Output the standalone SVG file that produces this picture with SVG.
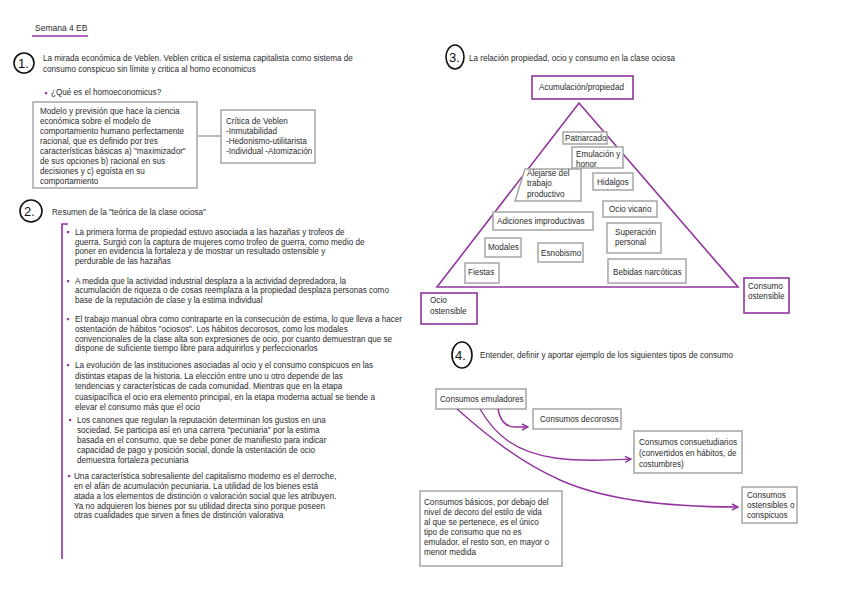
<svg xmlns="http://www.w3.org/2000/svg" width="848" height="599" viewBox="0 0 848 599">
<style>
.t{font-family:"Liberation Sans",Arial,sans-serif;font-size:8.15px;fill:#2b2b2b}
.n{font-family:"Liberation Sans",Arial,sans-serif;font-size:13px;fill:#111}
.c{fill:none;stroke:#111;stroke-width:1.6}
.gb{fill:#fff;stroke:#a5a5a5;stroke-width:1.5}
.pb{fill:#fff;stroke:#93339f;stroke-width:1.6}
.pl{fill:none;stroke:#93339f;stroke-width:1.6}
.bl{fill:#93339f}
.ar{fill:none;stroke:#93339f;stroke-width:1.4}
</style>
<defs>
<marker id="ah" viewBox="0 0 8 8" refX="7" refY="4" markerWidth="8" markerHeight="8" markerUnits="userSpaceOnUse" orient="auto">
<path d="M1,1 L7,4 L1,7" fill="none" stroke="#93339f" stroke-width="1.4"/>
</marker>
</defs>
<rect width="848" height="599" fill="#fff"/>

<g id="title">
<text class="t" x="35" y="31" style="font-size:8.5px">Semana 4 EB</text>
<line class="pl" x1="32" y1="36" x2="88" y2="36"/>
</g>

<g id="section1">
<circle class="c" cx="24" cy="63" r="10"/>
<text class="n" x="18" y="68">1.</text>
<text class="t" x="43" y="61">La mirada económica de Veblen. Veblen critica el sistema capitalista como sistema de</text>
<text class="t" x="43" y="72">consumo conspicuo sin límite y critica al homo economicus</text>
<rect class="bl" x="45" y="92" width="2.2" height="2.2"/>
<text class="t" x="51" y="95">¿Qué es el homoeconomicus?</text>
</g>

<g id="homo-box">
<rect class="gb" x="33" y="102" width="164" height="86"/>
<text class="t" x="40" y="114">Modelo y previsión que hace la ciencia</text>
<text class="t" x="40" y="124">económica sobre el modelo de</text>
<text class="t" x="40" y="134">comportamiento humano perfectamente</text>
<text class="t" x="40" y="144">racional, que es definido por tres</text>
<text class="t" x="40" y="154">características básicas a) "maximizador"</text>
<text class="t" x="40" y="164">de sus opciones b) racional en sus</text>
<text class="t" x="40" y="174">decisiones y c) egoísta en su</text>
<text class="t" x="40" y="184">comportamiento</text>
</g>

<g id="critica-box">
<rect class="gb" x="221" y="110" width="94" height="53"/>
<text class="t" x="226" y="124">Crítica de Veblen</text>
<text class="t" x="226" y="134">-Inmutabilidad</text>
<text class="t" x="226" y="144">-Hedonismo-utilitarista</text>
<text class="t" x="226" y="154">-Individual -Atomización</text>
</g>

<g id="section2">
<circle class="c" cx="31" cy="211" r="11"/>
<text class="n" x="24" y="216">2.</text>
<text class="t" x="52" y="215">Resumen de la "teórica de la clase ociosa"</text>
<path class="pl" d="M68,224 L62,224 L62,559"/>
<rect class="bl" x="67" y="231" width="2.2" height="2.2"/>
<text class="t" x="75" y="235">La primera forma de propiedad estuvo asociada a las hazañas y trofeos de</text>
<text class="t" x="75" y="245">guerra. Surgió con la captura de mujeres como trofeo de guerra, como medio de</text>
<text class="t" x="75" y="254">poner en evidencia la fortaleza y de mostrar un resultado ostensible y</text>
<text class="t" x="75" y="264">perdurable de las hazañas</text>
<rect class="bl" x="67" y="280" width="2.2" height="2.2"/>
<text class="t" x="75" y="284">A medida que la actividad industrial desplaza a la actividad depredadora, la</text>
<text class="t" x="75" y="293">acumulación de riqueza o de cosas reemplaza a la propiedad desplaza personas como</text>
<text class="t" x="75" y="303">base de la reputación de clase y la estima individual</text>
<rect class="bl" x="67" y="318" width="2.2" height="2.2"/>
<text class="t" x="75" y="322">El trabajo manual obra como contraparte en la consecución de estima, lo que lleva a hacer</text>
<text class="t" x="75" y="332">ostentación de hábitos "ociosos". Los hábitos decorosos, como los modales</text>
<text class="t" x="75" y="342">convencionales de la clase alta son expresiones de ocio, por cuanto demuestran que se</text>
<text class="t" x="75" y="351">dispone de suficiente tiempo libre para adquirirlos y perfeccionarlos</text>
<rect class="bl" x="67" y="364" width="2.2" height="2.2"/>
<text class="t" x="75" y="368">La evolución de las instituciones asociadas al ocio y el consumo conspicuos en las</text>
<text class="t" x="75" y="379">distintas etapas de la historia. La elección entre uno u otro depende de las</text>
<text class="t" x="75" y="389">tendencias y características de cada comunidad. Mientras que en la etapa</text>
<text class="t" x="75" y="400">cuasipacífica el ocio era elemento principal, en la etapa moderna actual se tiende a</text>
<text class="t" x="75" y="410">elevar el consumo más que el ocio</text>
<rect class="bl" x="69" y="419" width="2.2" height="2.2"/>
<text class="t" x="77" y="423">Los canones que regulan la reputación determinan los gustos en una</text>
<text class="t" x="77" y="433">sociedad. Se participa así en una carrera "pecuniaria" por la estima</text>
<text class="t" x="77" y="443">basada en el consumo, que se debe poner de manifiesto para indicar</text>
<text class="t" x="77" y="453">capacidad de pago y posición social, donde la ostentación de ocio</text>
<text class="t" x="77" y="463">demuestra fortaleza pecuniaria</text>
<rect class="bl" x="68" y="475" width="2.2" height="2.2"/>
<text class="t" x="74" y="479">Una característica sobresaliente del capitalismo moderno es el derroche,</text>
<text class="t" x="74" y="489">en el afán de acumulación pecuniaria. La utilidad de los bienes está</text>
<text class="t" x="74" y="499">atada a los elementos de distinción o valoración social que les atribuyen.</text>
<text class="t" x="74" y="509">Ya no adquieren los bienes por su utilidad directa sino porque poseen</text>
<text class="t" x="74" y="518">otras cualidades que sirven a fines de distinción valorativa</text>
</g>

<g id="section3">
<ellipse class="c" cx="455" cy="57" rx="9" ry="12"/>
<text class="n" x="449" y="62">3.</text>
<text class="t" x="469" y="61">La relación propiedad, ocio y consumo en la clase ociosa</text>
</g>

<g id="pyramid">
<polygon class="pl" points="579,103 738,287 437,287"/>
</g>

<g id="acumulacion">
<rect class="pb" x="532" y="76" width="101" height="23"/>
<text class="t" x="539" y="90">Acumulación/propiedad</text>
</g>
<g id="patriarcado">
<rect class="gb" x="563" y="132" width="44" height="12"/>
<text class="t" x="565" y="141">Patriarcado</text>
</g>
<g id="emulacion">
<rect class="gb" x="572" y="147" width="51" height="21"/>
<text class="t" x="576" y="157">Emulación y</text>
<text class="t" x="576" y="167">honor</text>
</g>
<g id="alejarse">
<polygon class="gb" points="525,169 581,169 581,201 515,201"/>
<text class="t" x="527" y="176">Alejarse del</text>
<text class="t" x="527" y="186">trabajo</text>
<text class="t" x="527" y="197">productivo</text>
</g>
<g id="hidalgos">
<rect class="gb" x="593" y="173" width="40" height="17"/>
<text class="t" x="597" y="185">Hidalgos</text>
</g>
<g id="ocio-vicario">
<rect class="gb" x="603" y="201" width="54" height="16"/>
<text class="t" x="609" y="212">Ocio vicario</text>
</g>
<g id="adiciones">
<rect class="gb" x="493" y="212" width="100" height="18"/>
<text class="t" x="497" y="224">Adiciones improductivas</text>
</g>
<g id="superacion">
<rect class="gb" x="607" y="223" width="54" height="30"/>
<text class="t" x="615" y="235">Superación</text>
<text class="t" x="615" y="245">personal</text>
</g>
<g id="modales">
<rect class="gb" x="485" y="238" width="36" height="19"/>
<text class="t" x="488" y="250">Modales</text>
</g>
<g id="esnobismo">
<rect class="gb" x="538" y="243" width="45" height="19"/>
<text class="t" x="541" y="256">Esnobismo</text>
</g>
<g id="fiestas">
<rect class="gb" x="465" y="263" width="34" height="20"/>
<text class="t" x="468" y="275">Fiestas</text>
</g>
<g id="bebidas">
<rect class="gb" x="608" y="259" width="78" height="24"/>
<text class="t" x="613" y="275">Bebidas narcóticas</text>
</g>
<g id="ocio-ostensible">
<rect class="pb" x="421" y="293" width="56" height="31"/>
<text class="t" x="430" y="303">Ocio</text>
<text class="t" x="430" y="314">ostensible</text>
</g>
<g id="consumo-ostensible">
<rect class="pb" x="744" y="278" width="45" height="35"/>
<text class="t" x="748" y="289">Consumo</text>
<text class="t" x="748" y="299">ostensible</text>
</g>

<g id="section4">
<ellipse class="c" cx="462" cy="355" rx="10" ry="13"/>
<text class="n" x="455" y="360">4.</text>
<text class="t" x="480" y="358">Entender, definir y aportar ejemplo de los siguientes tipos de consumo</text>
</g>

<g id="emuladores">
<rect class="gb" x="436" y="389" width="90" height="20"/>
<text class="t" x="440" y="402">Consumos emuladores</text>
</g>
<g id="decorosos">
<rect class="gb" x="533" y="409" width="88" height="20"/>
<text class="t" x="540" y="422">Consumos decorosos</text>
</g>
<g id="consuetudinarios">
<rect class="gb" x="634" y="431" width="108" height="42"/>
<text class="t" x="639" y="445">Consumos consuetudiarios</text>
<text class="t" x="639" y="456">(convertidos en hábitos, de</text>
<text class="t" x="639" y="467">costumbres)</text>
</g>
<g id="ostensibles">
<rect class="gb" x="742" y="487" width="55" height="36"/>
<text class="t" x="747" y="498">Consumos</text>
<text class="t" x="747" y="508">ostensibles o</text>
<text class="t" x="747" y="518">conspicuos</text>
</g>
<g id="basicos">
<rect class="gb" x="420" y="491" width="142" height="75"/>
<text class="t" x="424" y="505">Consumos básicos, por debajo del</text>
<text class="t" x="424" y="515">nivel de decoro del estilo de vida</text>
<text class="t" x="424" y="525">al que se pertenece, es el único</text>
<text class="t" x="424" y="535">tipo de consumo que no es</text>
<text class="t" x="424" y="545">emulador, el resto son, en mayor o</text>
<text class="t" x="424" y="555">menor medida</text>
</g>

<g id="connectors">
<line x1="197" y1="136" x2="221" y2="136" stroke="#a5a5a5" stroke-width="1.5"/>
<path class="ar" d="M498,409 C500,420 505,427 515,427 L528,427" marker-end="url(#ah)"/>
<path class="ar" d="M480,409 C495,435 515,452 555,458 C585,462 610,460 631,459" marker-end="url(#ah)"/>
<path class="ar" d="M457,409 C490,438 520,462 560,480 C600,498 660,507 738,507" marker-end="url(#ah)"/>
</g>
</svg>
